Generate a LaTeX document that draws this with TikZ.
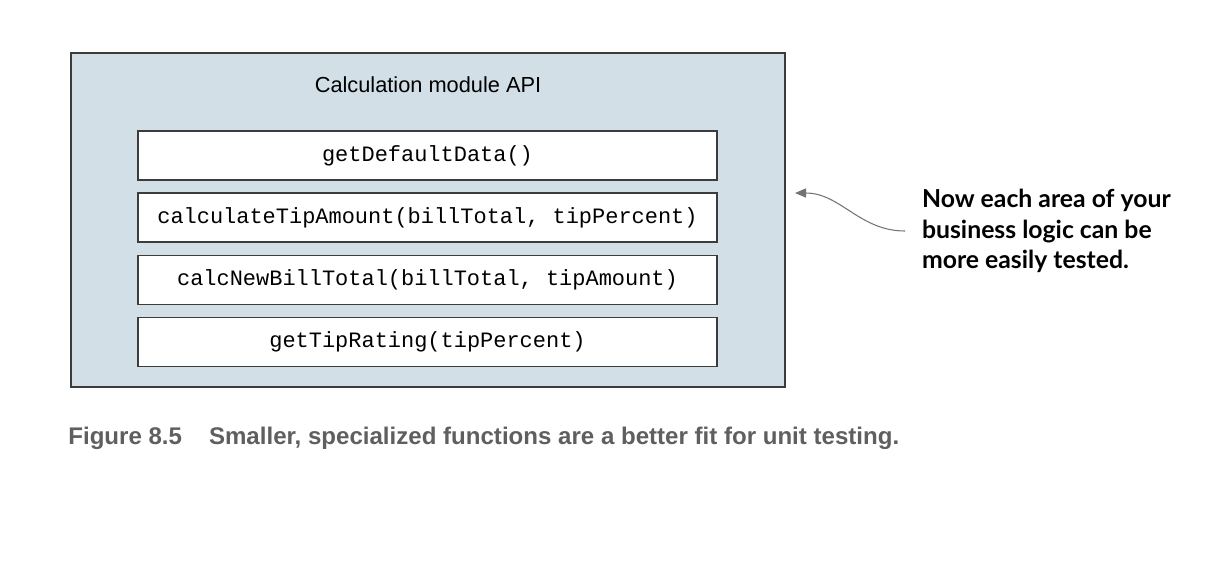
\documentclass[tikz,border=0pt]{standalone}
\usepackage{fontspec}
\setmainfont{Liberation Sans}
\setmonofont{Liberation Mono}
\newfontfamily\notefont{Lato}
\usepackage{xcolor}
\usetikzlibrary{positioning,arrows.meta}

\definecolor{apifill}{RGB}{211,223,231}
\definecolor{edge}{RGB}{60,60,60}
\definecolor{capgrey}{RGB}{95,95,95}

\begin{document}
\begin{tikzpicture}[
  x=0.02cm, y=-0.02cm,
  node distance=0.235cm,
  module/.style={
    rectangle, draw=edge, fill=apifill, line width=0.8pt,
    minimum width=14.28cm, minimum height=6.68cm
  },
  func/.style={
    rectangle, draw=edge, fill=white, line width=0.8pt,
    minimum width=11.58cm, minimum height=0.98cm,
    inner sep=0pt, font=\fontsize{12.5}{14}\selectfont\ttfamily
  },
  arr/.style={-{Triangle[length=2.2mm, width=1.8mm]}, line width=0.6pt, black!55},
  note/.style={
    align=left, inner xsep=9.5pt,
    font=\fontsize{14.1}{17.2}\selectfont\notefont\bfseries
  }
]
\useasboundingbox (0,0) rectangle (1230,566);

% --- Module box with its title ---
\node[module] (api) at (428,220) {};
\node[font=\fontsize{12.4}{14}\selectfont] (title) at (428,85) {Calculation module API};

% --- The four functions, stacked ---
\node[func] (defdata) at (427.5,155.5) {getDefaultData()};
\node[func, below=of defdata] (tipamt) {calculateTipAmount(billTotal, tipPercent)};
\node[func, below=of tipamt]  (newbill) {calcNewBillTotal(billTotal, tipAmount)};
\node[func, below=of newbill] (rating) {getTipRating(tipPercent)};

% --- Annotation pointing at the module ---
\node[note, anchor=west] (remark) at (905,231)
  {Now each area of your\\business logic can be\\more easily tested.};
\coordinate (tip) at (795,193);
\draw[arr] (remark.west) to[out=180, in=0] (tip);

% --- Caption ---
\node[anchor=west, inner sep=0pt, text=capgrey,
      font=\fontsize{13.7}{16}\selectfont\bfseries] (caption) at (68,438)
  {Figure 8.5\hspace{0.54cm}Smaller, specialized functions are a better fit for unit testing.};

\end{tikzpicture}
\end{document}
